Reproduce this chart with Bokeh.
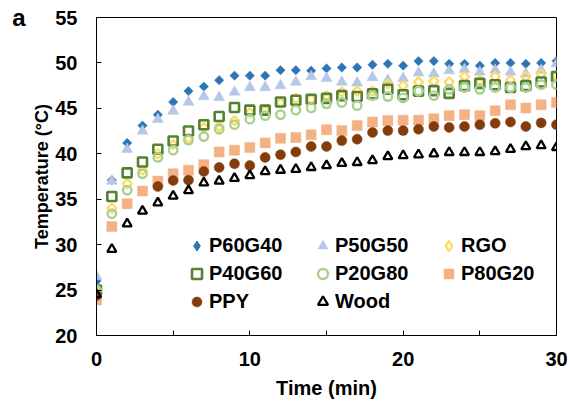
import math
import numpy as np
from bokeh.plotting import figure
from bokeh.models import Range1d, FixedTicker, Legend, LegendItem, LinearAxis
from bokeh.embed import file_html
from bokeh.resources import INLINE

nan = float("nan")
time_min = list(range(31))

p60g40 = [26.0, 37.1, 41.2, 43.1, 44.3, 45.7, 46.9, 47.4, 48.1, 48.6, 48.6, 48.6, 49.2, 49.2, 49.15, 49.4,
          49.5, 49.5, 49.8, 49.9, 49.7, 50.2, 50.2, 49.9, 49.9, 49.7, 50.0, 50.0, 49.9, 50.0, 50.2]
p50g50 = [26.5, 37.0, 40.5, 42.5, 43.8, 44.7, 45.7, 46.3, 46.2, 46.8, 47.3, 47.3, 47.5, 47.9, 48.5, 48.3,
          47.9, 47.8, 48.4, 48.1, 48.3, 48.9, 48.8, 49.15, 49.3, 49.0, 49.2, 49.0, 48.8, 49.2, 49.9]
rgo = [24.9, 34.0, 36.7, 38.2, 40.0, 41.0, 41.7, 42.9, 43.0, 43.65, 44.5, 44.75, 45.6, 46.1, 46.0, 46.4,
       46.8, 46.9, 46.9, 47.7, 47.5, 47.9, 48.0, 47.9, 48.5, 48.1, 48.5, 48.1, 48.5, 48.8, 48.6]
p40g60 = [25.0, 35.3, 37.9, 39.1, 40.5, 41.4, 42.5, 43.2, 44.1, 45.1, 44.8, 44.8, 45.7, 45.9, 46.0, 46.1,
          46.4, 46.3, 46.6, 47.1, 46.5, 46.9, 46.95, 46.65, 47.5, 47.75, 47.6, 47.3, 47.5, 47.9, 48.5]
p20g80 = [25.0, 33.4, 36.0, 37.8, 39.6, 40.4, 41.5, 41.9, 42.7, 43.2, 43.8, 44.2, 44.3, 44.8, 45.05, 45.5,
          45.65, 45.3, 46.4, 46.3, 46.15, 46.9, 46.4, 47.1, 47.3, 47.1, 47.3, 47.3, 47.3, 47.6, 47.6]
p80g20 = [23.9, 32.0, 34.5, 35.9, 37.0, 37.8, 38.2, 38.8, 40.2, 40.4, 40.7, 41.2, 41.7, 41.8, 42.1, 42.65,
          42.55, 43.1, 43.5, 43.65, 43.7, 43.7, 43.85, 44.2, 44.3, 44.2, 44.75, 45.4, 45.05, 45.4, 45.65]
ppy = [24.4, nan, nan, nan, 36.4, 37.05, 37.1, 38.05, 38.5, 38.9, 38.7, 39.6, 39.9, 40.2, 40.8, 40.8,
       41.45, 41.6, 42.35, 42.55, 42.55, 42.7, 43.0, 42.9, 43.0, 43.2, 43.35, 43.5, 43.0, 43.4, 43.2]
wood = [24.5, 29.5, 32.3, 33.7, 34.6, 35.35, 35.95, 36.8, 37.0, 37.3, 37.6, 38.05, 38.2, 38.3, 38.5, 38.7,
        38.95, 39.05, 39.25, 39.7, 39.8, 39.9, 40.0, 40.15, 40.15, 40.15, 40.25, 40.5, 40.8, 40.9, 40.7]

x_ticks = [0, 10, 20, 30]
x_minor_ticks = [5, 15, 25]
y_ticks = [20, 25, 30, 35, 40, 45, 50, 55]

FONT = "Liberation Sans"

p = figure(width=570, height=405, output_backend="svg", toolbar_location=None,
           x_range=Range1d(0, 30), y_range=Range1d(20, 55),
           min_border_left=96, min_border_right=14, min_border_top=17, min_border_bottom=70)
p.xgrid.visible = False
p.ygrid.visible = False
p.outline_line_color = "black"
p.outline_line_width = 1
p.background_fill_color = "white"
p.border_fill_color = "white"

t = np.array(time_min, dtype=float)
A = math.pi / 4

r_p60 = p.scatter(t, np.array(p60g40), marker="square", angle=A, size=6.6,
                  fill_color="#2E75B6", line_color="#2E75B6", line_width=0.5)
r_p50 = p.scatter(t, np.array(p50g50), marker="triangle", size=11,
                  fill_color="#B4C7E7", line_color="#B4C7E7", line_width=0.5)
r_rgo = p.scatter(t, np.array(rgo), marker="square", angle=A, size=6.5,
                  fill_alpha=0, line_color="#FFD966", line_width=2.3)
r_p40 = p.scatter(t, np.array(p40g60), marker="square", size=9,
                  fill_alpha=0, line_color="#548235", line_width=2.6)
r_p20 = p.scatter(t, np.array(p20g80), marker="circle", size=8.5,
                  fill_alpha=0, line_color="#A9D18E", line_width=2.4)
r_p80 = p.scatter(t, np.array(p80g20), marker="square", size=10,
                  fill_color="#F4B183", line_color="#F4B183", line_width=0.5)
r_ppy = p.scatter(t, np.array(ppy), marker="circle", size=10,
                  fill_color="#843C0C", line_color="#843C0C", line_width=0.5)
r_wood = p.scatter(t, np.array(wood), marker="triangle", size=9,
                   fill_alpha=0, line_color="black", line_width=2.3)

# legend-only glyphs for the diamonds (single point outside the visible range)
lg_p60 = p.scatter([-100], [-100], marker="diamond", size=10, fill_color="#2E75B6", line_color="#2E75B6")
lg_rgo = p.scatter([-100], [-100], marker="diamond", size=10, fill_alpha=0, line_color="#FFD966", line_width=2.3)

# axes
xa = p.xaxis[0]
ya = p.yaxis[0]
xa.ticker = FixedTicker(ticks=x_ticks, minor_ticks=x_minor_ticks)
ya.ticker = FixedTicker(ticks=y_ticks)
for ax in (xa, ya):
    ax.axis_line_color = "black"
    ax.axis_line_width = 1
    ax.major_tick_line_color = "black"
    ax.major_tick_in = 5
    ax.major_tick_out = 0
    ax.minor_tick_line_color = "black"
    ax.minor_tick_in = 5
    ax.minor_tick_out = 0
    ax.major_label_text_font = FONT
    ax.major_label_text_font_style = "bold"
    ax.major_label_text_font_size = "20px"
    ax.major_label_text_color = "black"
    ax.axis_label_text_font = FONT
    ax.axis_label_text_font_style = "bold"
    ax.axis_label_text_color = "black"
ya.minor_tick_line_color = None
xa.axis_label = "Time (min)"
xa.axis_label_text_font_size = "20px"
xa.major_label_standoff = 16
xa.axis_label_standoff = 8
ya.axis_label = "Temperature (°C)"
ya.axis_label_text_font_size = "18px"
ya.major_label_standoff = 19
ya.axis_label_standoff = 0

# panel letter "a": an outer, line-less left axis with a single labelled tick at the top
p.extra_y_ranges = {"panel": Range1d(0, 10000)}
panel_axis = LinearAxis(y_range_name="panel", ticker=FixedTicker(ticks=[9999]),
                        major_label_overrides={9999: "a"},
                        axis_line_color=None, major_tick_line_color=None, minor_tick_line_color=None,
                        major_tick_in=0, major_tick_out=0, minor_tick_in=0, minor_tick_out=0,
                        major_label_standoff=4, major_label_text_font=FONT,
                        major_label_text_font_style="bold", major_label_text_font_size="24px",
                        major_label_text_color="black")
p.add_layout(panel_axis, "left")


def make_legend(items, vx, vy):
    lg = Legend(items=items, location=(vx, vy), orientation="vertical",
                glyph_width=25, glyph_height=25, spacing=3, padding=0, margin=0,
                label_standoff=0, label_text_font=FONT, label_text_font_style="bold",
                label_text_font_size="20px", label_text_color="black",
                border_line_alpha=0, background_fill_alpha=0)
    p.add_layout(lg, "center")


make_legend([LegendItem(label="P60G40", renderers=[lg_p60]),
             LegendItem(label="P40G60", renderers=[r_p40]),
             LegendItem(label="PPY", renderers=[r_ppy])], 88, 21)
make_legend([LegendItem(label="P50G50", renderers=[r_p50]),
             LegendItem(label="P20G80", renderers=[r_p20]),
             LegendItem(label="Wood", renderers=[r_wood])], 214, 21)
make_legend([LegendItem(label="RGO", renderers=[lg_rgo]),
             LegendItem(label="P80G20", renderers=[r_p80])], 340, 49)

open("out.html", "w").write(file_html(p, INLINE))
